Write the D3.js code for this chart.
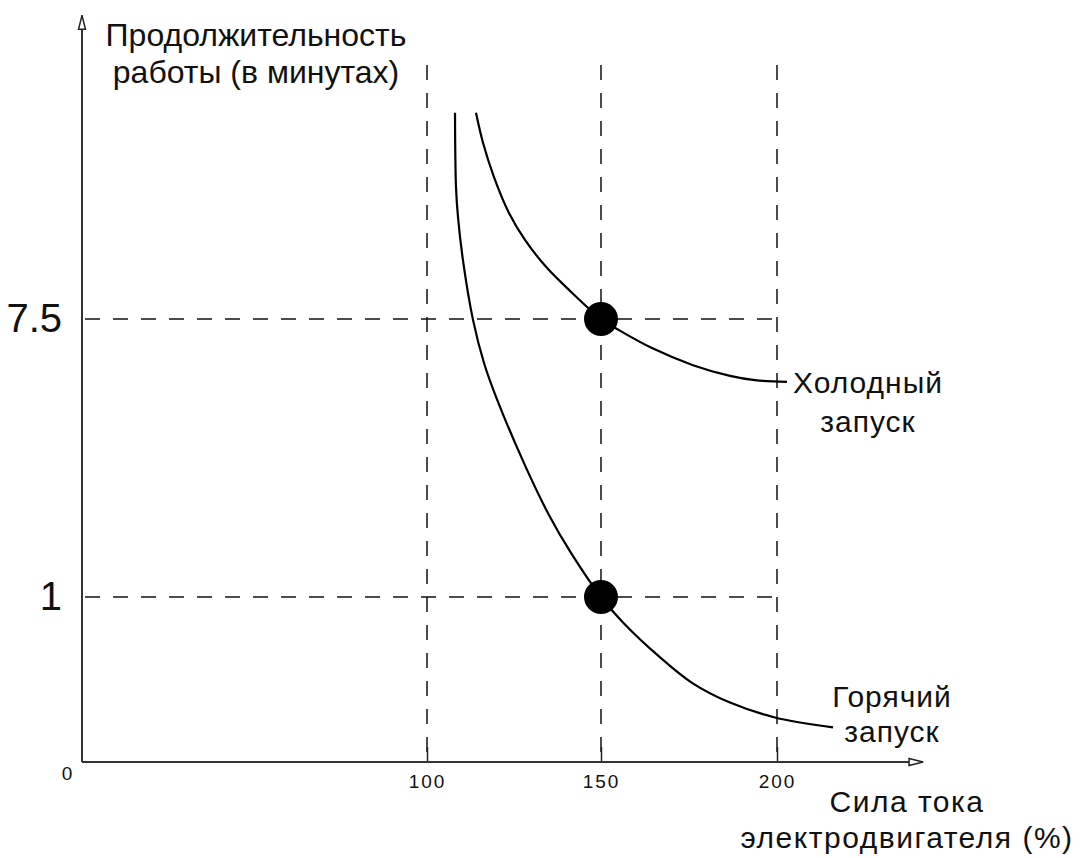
<!DOCTYPE html>
<html>
<head>
<meta charset="utf-8">
<script src="https://cdn.jsdelivr.net/npm/d3@7"></script>
<style>
  body { margin: 0; background: #fff; }
  svg text { font-family: "Liberation Sans", Arial, sans-serif; fill: #111; }
</style>
</head>
<body>
<div id="chart"></div>
<script>
// current (%) vs run time (min) - schematic, axes are not to scale
var xTicks = [100, 150, 200];
var yTicks = [1, 7.5];

var coldStart = [
    {x: 114.08, y: 12.32}, {x: 116.09, y: 11.62}, {x: 119.25, y: 10.82},
    {x: 123.56, y: 9.98}, {x: 128.16, y: 9.35}, {x: 134.20, y: 8.72},
    {x: 140.80, y: 8.18}, {x: 150, y: 7.5}, {x: 155.11, y: 7.24},
    {x: 164.49, y: 6.82}, {x: 176.14, y: 6.42}, {x: 186.65, y: 6.17},
    {x: 193.75, y: 6.07}, {x: 202.84, y: 6.03}
];
var hotStart = [
    {x: 108.05, y: 12.32}, {x: 108.33, y: 10.59}, {x: 108.91, y: 9.88},
    {x: 110.34, y: 8.87}, {x: 113.22, y: 7.48}, {x: 116.38, y: 6.47},
    {x: 119.83, y: 5.68}, {x: 127.87, y: 4.13}, {x: 134.77, y: 2.96},
    {x: 141.38, y: 2.03}, {x: 150, y: 1}, {x: 156.53, y: 0.84},
    {x: 166.48, y: 0.64}, {x: 175.85, y: 0.48}, {x: 186.65, y: 0.36},
    {x: 199.43, y: 0.27}, {x: 215.91, y: 0.21}
];
var markers = [{x: 150, y: 7.5}, {x: 150, y: 1}];

var yTitle = ["Продолжительность", "работы (в минутах)"];
var xTitle = ["Сила тока", "электродвигателя (%)"];
var coldLabel = ["Холодный", "запуск"];
var hotLabel = ["Горячий", "запуск"];

var xMax = 241.5, yMax = 14.6, gridTop = 13.44;

var width = 1080, height = 858;

var svg = d3.select("#chart").append("svg")
    .attr("width", width)
    .attr("height", height);

// piecewise scales since the picture is only a sketch
var x = d3.scaleLinear()
    .domain([0, 100, 150, 200])
    .range([82, 427, 601, 777]);
var y = d3.scaleLinear()
    .domain([0, 1, 7.5])
    .range([762, 597, 319]);

var defs = svg.append("defs");
defs.append("marker")
    .attr("id", "arrow")
    .attr("viewBox", "0 0 16 10")
    .attr("refX", 15).attr("refY", 5)
    .attr("markerWidth", 16).attr("markerHeight", 10)
    .attr("markerUnits", "userSpaceOnUse")
    .attr("orient", "auto")
    .append("path")
    .attr("d", "M1,1.5 L15,5 L1,8.5 Z")
    .attr("fill", "#fff")
    .attr("stroke", "#222")
    .attr("stroke-width", 1.5);

// dashed guide lines
svg.selectAll(".vgrid")
    .data(xTicks)
    .enter().append("line")
    .attr("class", "vgrid")
    .attr("x1", d => x(d)).attr("x2", d => x(d))
    .attr("y1", y(gridTop)).attr("y2", y(0))
    .attr("stroke", "#111")
    .attr("stroke-width", 1.5)
    .attr("stroke-dasharray", "15,13");

svg.selectAll(".hgrid")
    .data(yTicks)
    .enter().append("line")
    .attr("class", "hgrid")
    .attr("x1", x(0) + 3).attr("x2", x(200))
    .attr("y1", d => y(d)).attr("y2", d => y(d))
    .attr("stroke", "#111")
    .attr("stroke-width", 1.5)
    .attr("stroke-dasharray", "15,13");

// axes
var xAxis = svg.append("g")
    .attr("transform", "translate(0," + y(0) + ")")
    .call(d3.axisBottom(x).tickValues(xTicks).tickSize(-15).tickPadding(13).tickSizeOuter(0));
xAxis.select(".domain").remove();
xAxis.selectAll(".tick line").attr("stroke", "#222").attr("stroke-width", 1.5);
xAxis.selectAll("text")
    .style("font-size", "19px")
    .style("letter-spacing", "2px")
    .style("font-family", "'Liberation Sans', Arial, sans-serif")
    .attr("fill", "#111");

var yAxis = svg.append("g")
    .attr("transform", "translate(" + x(0) + ",0)")
    .call(d3.axisLeft(y).tickValues(yTicks).tickSize(0).tickPadding(20).tickFormat(d => d));
yAxis.select(".domain").remove();
yAxis.selectAll("text")
    .style("font-size", "40px")
    .style("font-family", "'Liberation Sans', Arial, sans-serif")
    .attr("fill", "#111");

svg.append("text")
    .attr("x", x(0) - 15)
    .attr("y", y(0) + 18)
    .attr("text-anchor", "middle")
    .style("font-size", "19px")
    .attr("fill", "#111")
    .text("0");

svg.append("line")
    .attr("x1", x(0)).attr("y1", y(0))
    .attr("x2", x(xMax)).attr("y2", y(0))
    .attr("stroke", "#333").attr("stroke-width", 2)
    .attr("marker-end", "url(#arrow)");
svg.append("line")
    .attr("x1", x(0)).attr("y1", y(0))
    .attr("x2", x(0)).attr("y2", y(yMax))
    .attr("stroke", "#333").attr("stroke-width", 2)
    .attr("marker-end", "url(#arrow)");

// curves
var line = d3.line()
    .curve(d3.curveCatmullRom.alpha(0.5))
    .x(d => x(d.x))
    .y(d => y(d.y));

svg.selectAll(".curve")
    .data([coldStart, hotStart])
    .enter().append("path")
    .attr("class", "curve")
    .attr("d", line)
    .attr("fill", "none")
    .attr("stroke", "#000")
    .attr("stroke-width", 2.2);

svg.selectAll(".dot")
    .data(markers)
    .enter().append("circle")
    .attr("class", "dot")
    .attr("cx", d => x(d.x))
    .attr("cy", d => y(d.y))
    .attr("r", 17)
    .attr("fill", "#000");

// labels
function multiLine(lines, cx, baseline, lh, size, spacing) {
    var t = svg.append("text")
        .attr("text-anchor", "middle")
        .style("font-size", size + "px")
        .style("letter-spacing", spacing + "px");
    lines.forEach(function(s, i) {
        t.append("tspan").attr("x", cx).attr("y", baseline + i * lh).text(s);
    });
}

multiLine(yTitle, 256, 46, 37, 32, 0);
multiLine(coldLabel, 868, 393, 39, 30, 1);
multiLine(hotLabel, 892, 707, 35, 30, 1);
multiLine(xTitle, 907, 812, 36, 30, 1.5);
</script>
</body>
</html>
